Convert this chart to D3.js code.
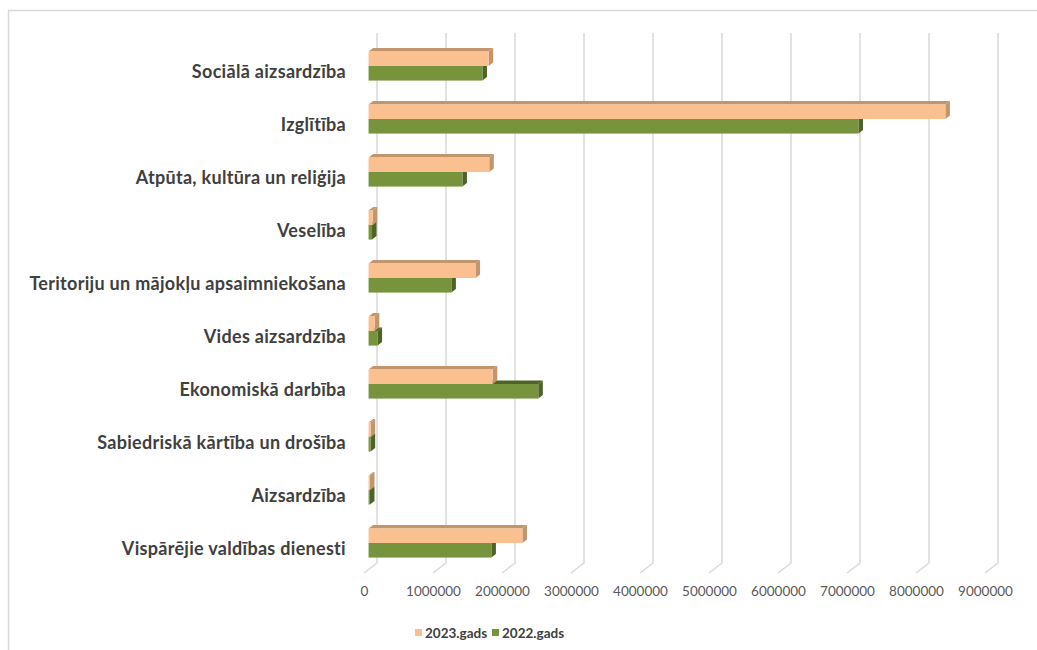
<!DOCTYPE html>
<html>
<head>
<meta charset="utf-8">
<script src="https://cdn.jsdelivr.net/npm/d3@7"></script>
<style>
  body { margin: 0; background: #fff; }
  svg { display: block; font-family: Lato, "Open Sans", sans-serif; }
  .cat text { font-family: Lato, sans-serif; font-size: 18px; font-weight: bold; fill: #404040; letter-spacing: 0.3px; }
  .x text { font-family: Lato, sans-serif; font-size: 13.5px; fill: #595959; }
  .legend text { font-family: Lato, sans-serif; font-size: 13.5px; font-weight: bold; fill: #404040; }
</style>
</head>
<body>
<svg width="1037" height="650"></svg>
<script>
// categories top to bottom
var categories = [
    "Sociālā aizsardzība",
    "Izglītība",
    "Atpūta, kultūra un reliģija",
    "Veselība",
    "Teritoriju un mājokļu apsaimniekošana",
    "Vides aizsardzība",
    "Ekonomiskā darbība",
    "Sabiedriskā kārtība un drošība",
    "Aizsardzība",
    "Vispārējie valdības dienesti"
];
var series = ["2023.gads", "2022.gads"];
var values2023 = [1740000, 8360000, 1750000, 60000, 1550000, 90000, 1800000, 30000, 20000, 2230000];
var values2022 = [1650000, 7100000, 1360000, 50000, 1200000, 130000, 2460000, 30000, 20000, 1780000];
var tickValues = [0, 1000000, 2000000, 3000000, 4000000, 5000000, 6000000, 7000000, 8000000, 9000000];

var faceColor = { "2023.gads": "#fac090", "2022.gads": "#77933c" };
var sideColor = { "2023.gads": "#c3956d", "2022.gads": "#4f6228" };

var svg = d3.select("svg");

// chart frame (only top and left visible)
svg.append("path")
    .attr("d", "M8.5,650 L8.5,10.5 L1037,10.5")
    .attr("fill", "none").attr("stroke", "#d9d9d9").attr("stroke-width", 1.5);

// front plane scales, depth pushes things right and up
var x = d3.scaleLinear().domain([0, 9000000]).range([364, 985]);
var y = d3.scaleBand().domain(categories).range([43, 573]).paddingInner(0.45).paddingOuter(0.225);
var ySub = d3.scaleBand().domain(series).range([0, y.bandwidth()]);
var depthX = 13, depthY = -10;
var d1 = 0.35, d2 = 0.7;

// back wall gridlines with floor diagonals
svg.append("g").selectAll("path")
    .data(tickValues)
    .enter().append("path")
    .attr("d", function(d) {
        var bx = x(d) + depthX, top = 33, bottom = 573 + depthY;
        return "M" + bx + "," + top + " L" + bx + "," + bottom + " L" + x(d) + "," + 573;
    })
    .attr("fill", "none").attr("stroke", "#d9d9d9").attr("stroke-width", 1.5);

// x axis labels on the front floor edge
var xAxis = svg.append("g").attr("class", "x")
    .attr("transform", "translate(0,573)")
    .call(d3.axisBottom(x).tickValues(tickValues).tickSize(0).tickPadding(13).tickFormat(d3.format("d")));
xAxis.select(".domain").remove();

// category labels
var yAxis = svg.append("g").attr("class", "cat")
    .attr("transform", "translate(365,3)")
    .call(d3.axisLeft(y).tickSize(0).tickPadding(19));
yAxis.select(".domain").remove();

// bars: lower series first so the upper one sits on it
var rows = [];
categories.forEach(function(c, i) {
    rows.push({ cat: c, s: "2022.gads", v: values2022[i] });
    rows.push({ cat: c, s: "2023.gads", v: values2023[i] });
});

var bars = svg.append("g").selectAll("g")
    .data(rows)
    .enter().append("g");

function pts(list) { return list.map(function(p) { return p.join(","); }).join(" "); }

bars.each(function(d) {
    var g = d3.select(this);
    var x0 = x(0) + depthX * d1, x1 = x(d.v) + depthX * d1;
    var y0 = y(d.cat) + ySub(d.s) + depthY * d1, h = ySub.bandwidth();
    var ox = depthX * (d2 - d1), oy = depthY * (d2 - d1);
    // top
    g.append("polygon")
        .attr("points", pts([[x0, y0], [x0 + ox, y0 + oy], [x1 + ox, y0 + oy], [x1, y0]]))
        .attr("fill", sideColor[d.s]);
    // side
    g.append("polygon")
        .attr("points", pts([[x1, y0], [x1 + ox, y0 + oy], [x1 + ox, y0 + h + oy], [x1, y0 + h]]))
        .attr("fill", sideColor[d.s]);
    // front
    g.append("rect")
        .attr("x", x0).attr("y", y0)
        .attr("width", Math.max(0, x1 - x0)).attr("height", h)
        .attr("fill", faceColor[d.s]);
});

// legend
var legend = svg.append("g").attr("class", "legend")
    .selectAll("g").data(series).enter().append("g")
    .attr("transform", function(d, i) { return "translate(" + (415 + i * 77) + ",629)"; });
legend.append("rect").attr("width", 7).attr("height", 7)
    .attr("fill", function(d) { return faceColor[d]; });
legend.append("text").attr("x", 10).attr("y", 4).attr("dy", "0.35em")
    .text(function(d) { return d; });
</script>
</body>
</html>
